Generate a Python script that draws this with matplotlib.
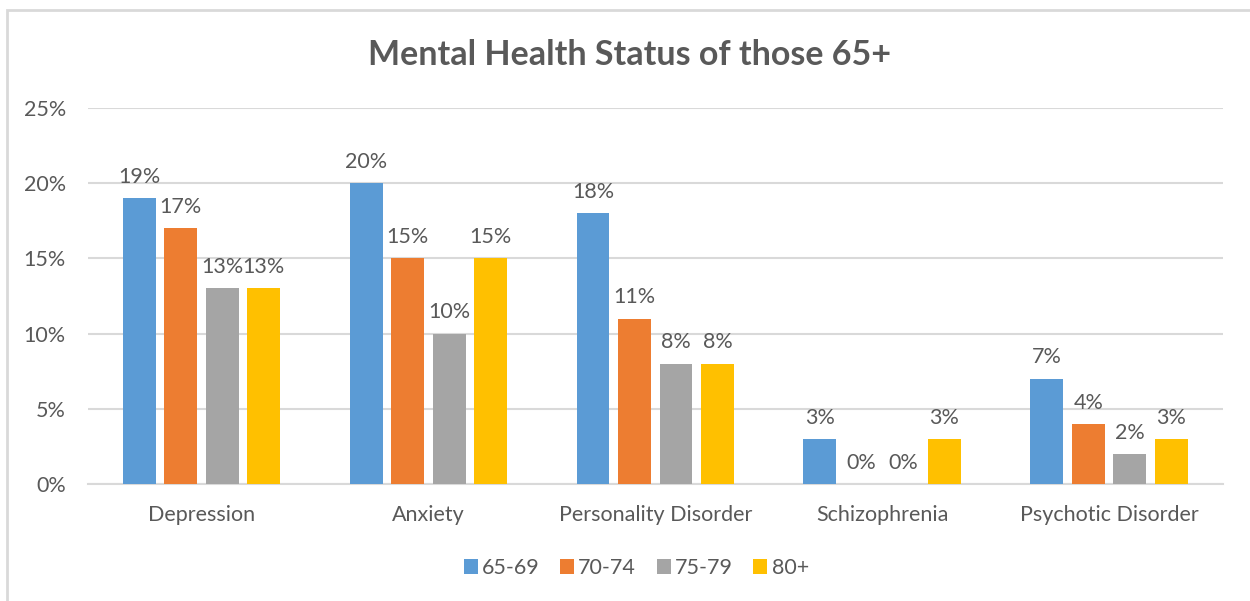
import matplotlib.pyplot as plt
import numpy as np
from matplotlib.patches import Rectangle

categories = ["Depression", "Anxiety", "Personality Disorder", "Schizophrenia", "Psychotic Disorder"]
series_names = ["65-69", "70-74", "75-79", "80+"]
v_65_69 = [19, 20, 18, 3, 7]
v_70_74 = [17, 15, 11, 0, 4]
v_75_79 = [13, 10, 8, 0, 2]
v_80p = [13, 15, 8, 3, 3]
colors = ["#5B9BD5", "#ED7D31", "#A5A5A5", "#FFC000"]
yticks = [0, 5, 10, 15, 20, 25]

plt.rcParams['font.family'] = ['Lato', 'DejaVu Sans']
txt = "#595959"
fs = 15.5

fig = plt.figure(figsize=(12.5, 6.01), dpi=100)
ax = fig.add_axes([0.0704, 0.1947, 0.9076, 0.6256])

series = [v_65_69, v_70_74, v_75_79, v_80p]
x = np.arange(len(categories))
bw = 0.145
step = 0.183
for i, (vals, c, name) in enumerate(zip(series, colors, series_names)):
    off = (i - 1.5) * step
    ax.bar(x + off, vals, width=bw, color=c, label=name, zorder=3)
    for xi, v in zip(x + off, vals):
        ax.text(xi, v + 0.75, f"{v}%", ha='center', va='bottom', fontsize=fs, color=txt)

ax.set_xlim(-0.5, len(categories) - 0.5)
ax.set_ylim(0, 25)
ax.set_yticks(yticks)
ax.set_yticklabels([f"{t}%" for t in yticks], fontsize=fs, color=txt)
ax.set_xticks(x)
ax.set_xticklabels(categories, fontsize=fs, color=txt)
ax.tick_params(axis='both', length=0)
ax.tick_params(axis='y', pad=16)
ax.tick_params(axis='x', pad=15)
ax.grid(axis='y', color='#D9D9D9', linewidth=1.5, zorder=0)
for s in ['top', 'right', 'left']:
    ax.spines[s].set_visible(False)
ax.spines['bottom'].set_color('#D9D9D9')
ax.spines['bottom'].set_linewidth(1.5)

fig.text(0.504, 1 - 55 / 601, "Mental Health Status of those 65+", ha='center', va='center',
         fontsize=24.5, fontweight='bold', color=txt)

leg = fig.legend(loc='center', bbox_to_anchor=(0.509, 1 - 568 / 601), ncol=4, frameon=False,
                 fontsize=fs, handlelength=0.65, handleheight=0.65, handletextpad=0.2,
                 columnspacing=0.95)
for t in leg.get_texts():
    t.set_color(txt)

fig.patches.append(Rectangle((7 / 1250, -0.1), 1.2, 1 - 10 / 601 + 0.1, transform=fig.transFigure,
                             fill=False, edgecolor='#D9D9D9', linewidth=2))

fig.savefig("out.png", dpi=100)
